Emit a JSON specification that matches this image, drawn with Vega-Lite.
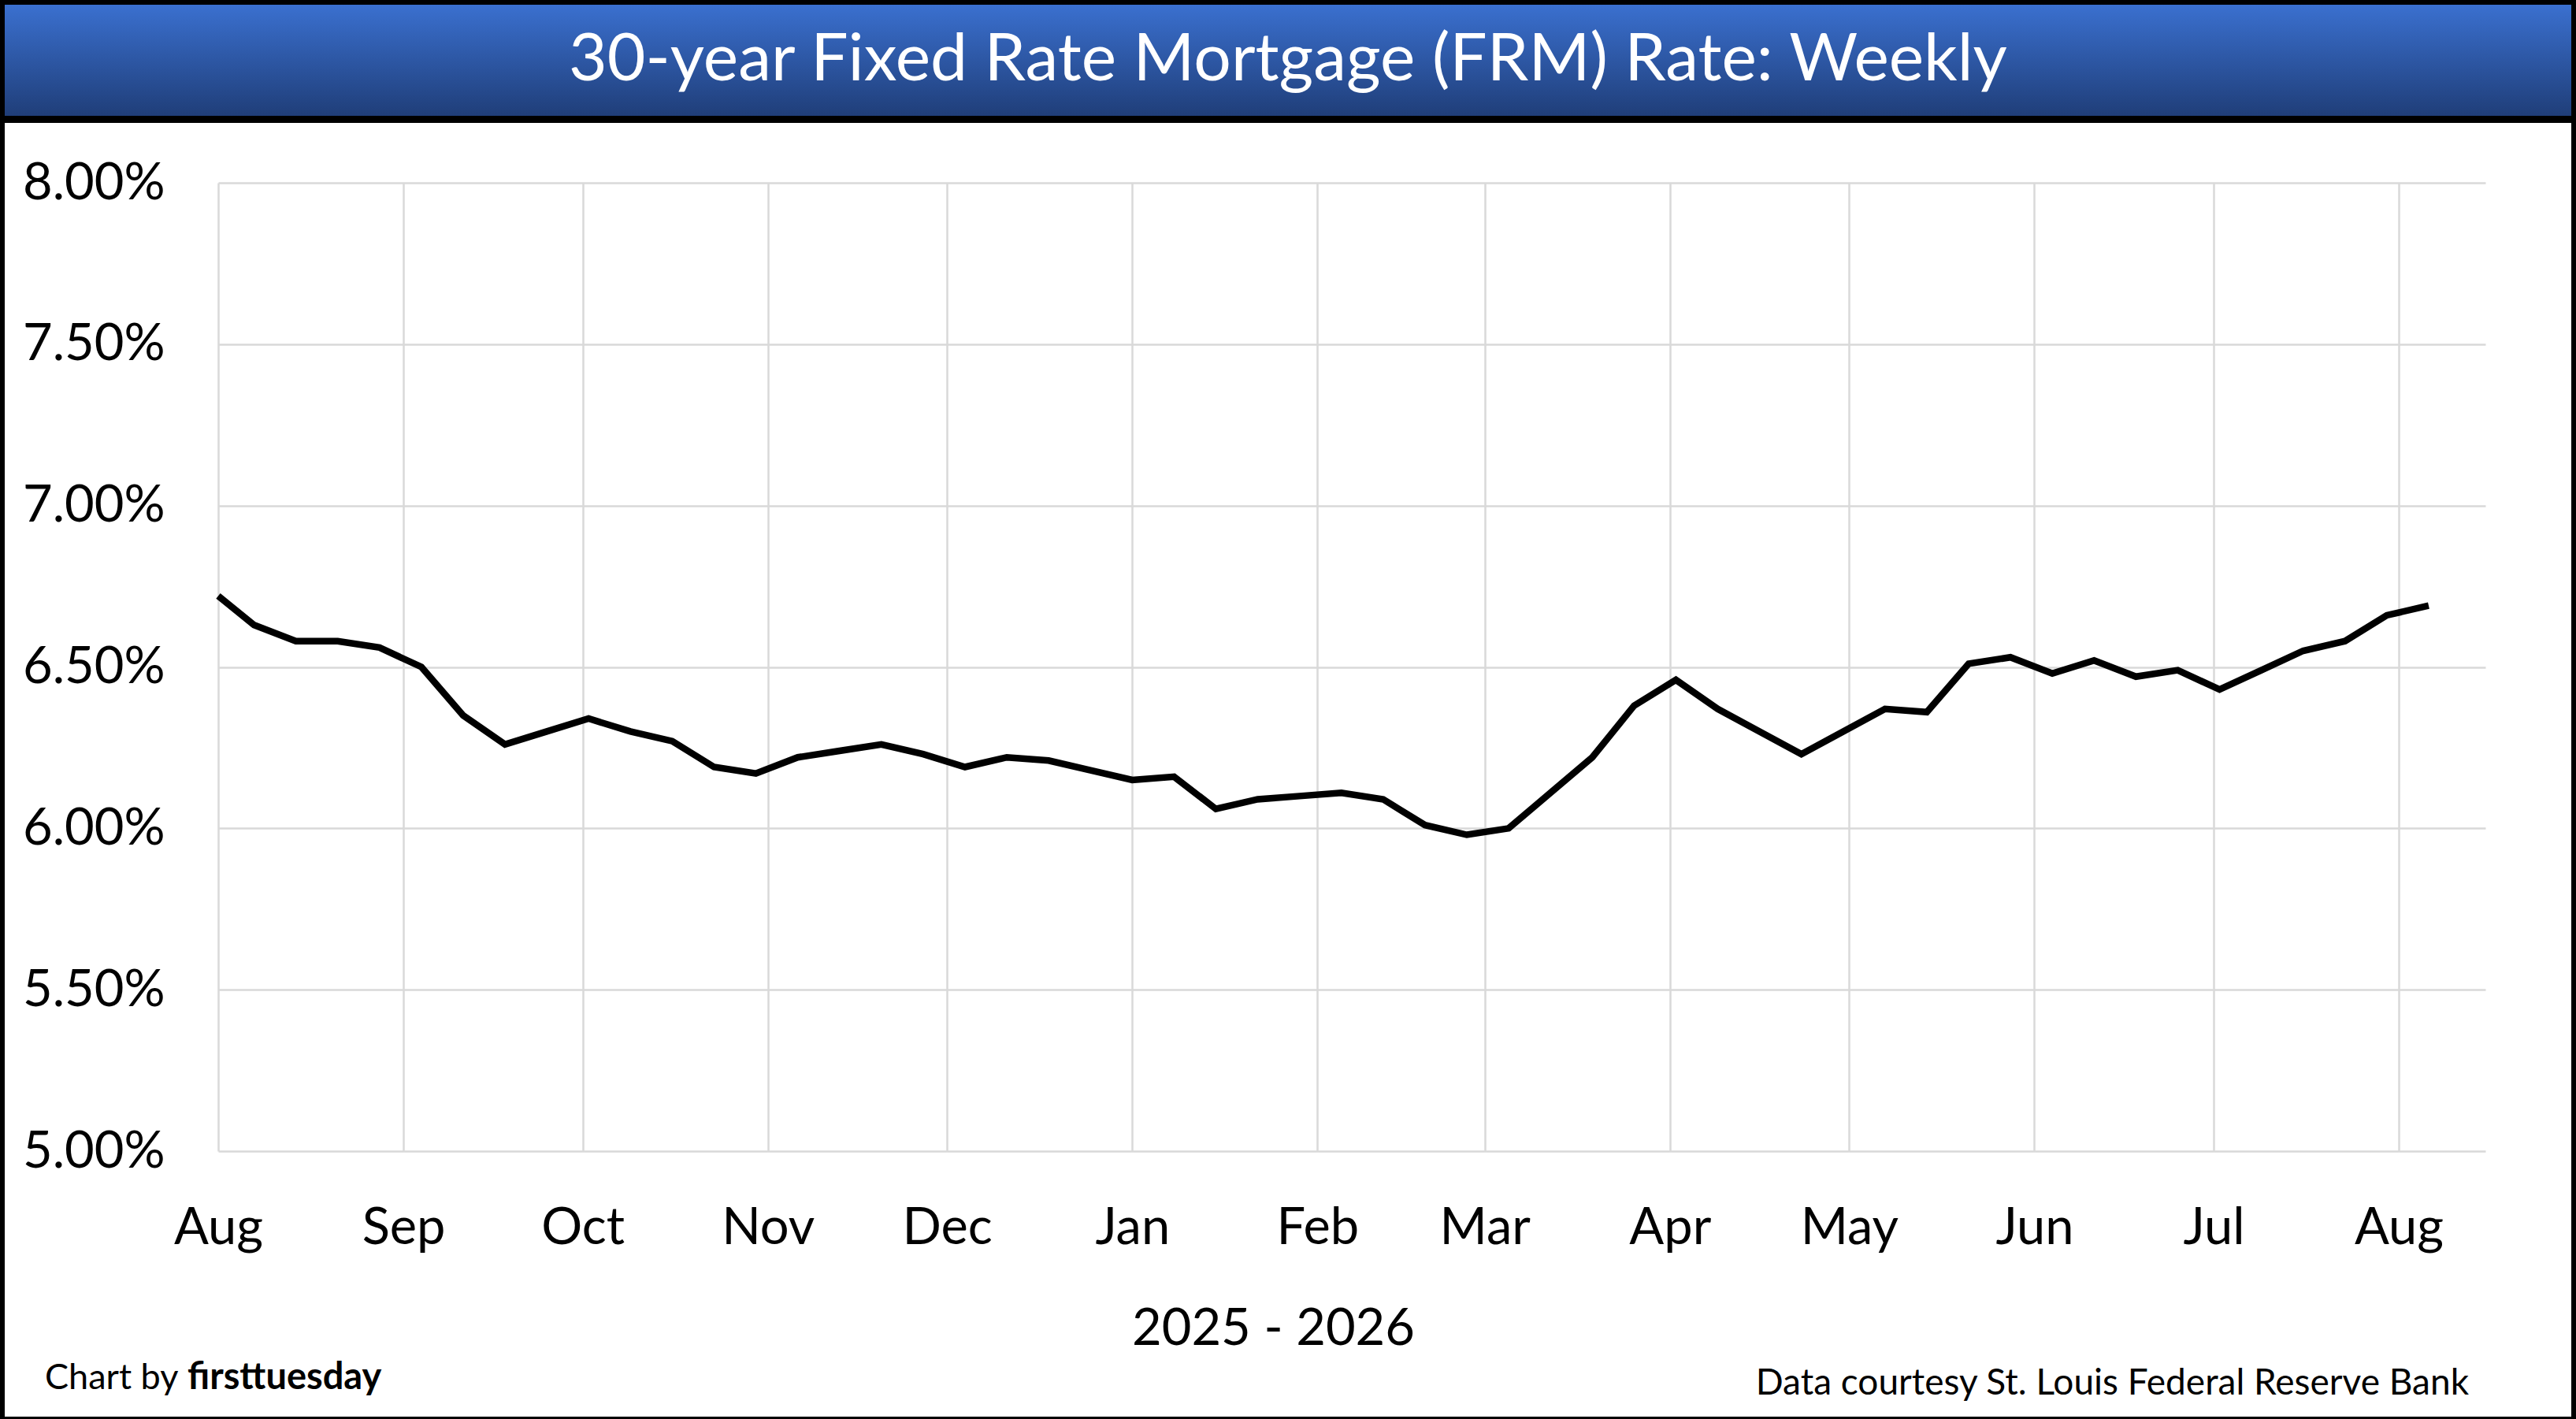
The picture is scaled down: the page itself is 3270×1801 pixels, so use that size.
{
  "$schema": "https://vega.github.io/schema/vega-lite/v6.json",
  "background": "white",
  "padding": 0,
  "spacing": -6,
  "config": {"font": "Lato", "view": {"stroke": null}},
  "vconcat": [
    {
      "width": 3264,
      "height": 147,
      "data": {"values": [{"title": "30-year Fixed Rate Mortgage (FRM) Rate: Weekly"}]},
      "layer": [
        {
          "mark": {
            "type": "rect",
            "stroke": "black",
            "strokeWidth": 6,
            "fill": {
              "gradient": "linear",
              "x1": 0, "y1": 0, "x2": 0, "y2": 1,
              "stops": [
                {"offset": 0, "color": "#3B71D1"},
                {"offset": 1, "color": "#1F3D77"}
              ]
            }
          }
        },
        {
          "mark": {"type": "text", "color": "white", "fontSize": 84, "font": "Lato"},
          "encoding": {"text": {"field": "title"}}
        }
      ]
    },
    {
      "width": 3264,
      "height": 1648,
      "view": {"stroke": "black", "strokeWidth": 6, "fill": "white"},
      "layer": [
        {
          "data": {
            "values": [
              {"week": "2025-07-31T00:00:00", "rate": 6.72},
              {"week": "2025-08-07T00:00:00", "rate": 6.63},
              {"week": "2025-08-14T00:00:00", "rate": 6.58},
              {"week": "2025-08-21T00:00:00", "rate": 6.58},
              {"week": "2025-08-28T00:00:00", "rate": 6.56},
              {"week": "2025-09-04T00:00:00", "rate": 6.50},
              {"week": "2025-09-11T00:00:00", "rate": 6.35},
              {"week": "2025-09-18T00:00:00", "rate": 6.26},
              {"week": "2025-09-25T00:00:00", "rate": 6.30},
              {"week": "2025-10-02T00:00:00", "rate": 6.34},
              {"week": "2025-10-09T00:00:00", "rate": 6.30},
              {"week": "2025-10-16T00:00:00", "rate": 6.27},
              {"week": "2025-10-23T00:00:00", "rate": 6.19},
              {"week": "2025-10-30T00:00:00", "rate": 6.17},
              {"week": "2025-11-06T00:00:00", "rate": 6.22},
              {"week": "2025-11-13T00:00:00", "rate": 6.24},
              {"week": "2025-11-20T00:00:00", "rate": 6.26},
              {"week": "2025-11-27T00:00:00", "rate": 6.23},
              {"week": "2025-12-04T00:00:00", "rate": 6.19},
              {"week": "2025-12-11T00:00:00", "rate": 6.22},
              {"week": "2025-12-18T00:00:00", "rate": 6.21},
              {"week": "2025-12-25T00:00:00", "rate": 6.18},
              {"week": "2026-01-01T00:00:00", "rate": 6.15},
              {"week": "2026-01-08T00:00:00", "rate": 6.16},
              {"week": "2026-01-15T00:00:00", "rate": 6.06},
              {"week": "2026-01-22T00:00:00", "rate": 6.09},
              {"week": "2026-01-29T00:00:00", "rate": 6.10},
              {"week": "2026-02-05T00:00:00", "rate": 6.11},
              {"week": "2026-02-12T00:00:00", "rate": 6.09},
              {"week": "2026-02-19T00:00:00", "rate": 6.01},
              {"week": "2026-02-26T00:00:00", "rate": 5.98},
              {"week": "2026-03-05T00:00:00", "rate": 6.00},
              {"week": "2026-03-12T00:00:00", "rate": 6.11},
              {"week": "2026-03-19T00:00:00", "rate": 6.22},
              {"week": "2026-03-26T00:00:00", "rate": 6.38},
              {"week": "2026-04-02T00:00:00", "rate": 6.46},
              {"week": "2026-04-09T00:00:00", "rate": 6.37},
              {"week": "2026-04-16T00:00:00", "rate": 6.30},
              {"week": "2026-04-23T00:00:00", "rate": 6.23},
              {"week": "2026-04-30T00:00:00", "rate": 6.30},
              {"week": "2026-05-07T00:00:00", "rate": 6.37},
              {"week": "2026-05-14T00:00:00", "rate": 6.36},
              {"week": "2026-05-21T00:00:00", "rate": 6.51},
              {"week": "2026-05-28T00:00:00", "rate": 6.53},
              {"week": "2026-06-04T00:00:00", "rate": 6.48},
              {"week": "2026-06-11T00:00:00", "rate": 6.52},
              {"week": "2026-06-18T00:00:00", "rate": 6.47},
              {"week": "2026-06-25T00:00:00", "rate": 6.49},
              {"week": "2026-07-02T00:00:00", "rate": 6.43},
              {"week": "2026-07-09T00:00:00", "rate": 6.49},
              {"week": "2026-07-16T00:00:00", "rate": 6.55},
              {"week": "2026-07-23T00:00:00", "rate": 6.58},
              {"week": "2026-07-30T00:00:00", "rate": 6.66},
              {"week": "2026-08-06T00:00:00", "rate": 6.69}
            ]
          },
          "mark": {"type": "line", "color": "black", "strokeWidth": 8.5},
          "encoding": {
            "x": {
              "field": "week",
              "type": "temporal",
              "scale": {
                "domain": [
                  {"year": 2025, "month": 8, "date": 1},
                  {"year": 2026, "month": 8, "date": 15, "hours": 12}
                ],
                "range": [274, 3152],
                "nice": false,
                "clamp": true
              },
              "axis": {
                "orient": "top",
                "offset": -1374,
                "title": "2025 - 2026",
                "titleFontSize": 65,
                "titleFontWeight": "normal",
                "titleColor": "black",
                "titleX": 1613,
                "titleY": 179,
                "titleBaseline": "alphabetic",
                "titleAlign": "center",
                "format": "%b",
                "tickCount": {"interval": "month", "step": 1},
                "domain": false,
                "ticks": false,
                "labelFontSize": 65,
                "labelColor": "black",
                "labelPadding": 0,
                "labelBaseline": "top",
                "labelFlush": false,
                "labelOverlap": false,
                "gridColor": "#d9d9d9",
                "gridWidth": 2.5
              }
            },
            "y": {
              "field": "rate",
              "type": "quantitative",
              "scale": {"domain": [5, 8], "range": [1308, 79], "nice": false, "zero": false},
              "axis": {
                "title": null,
                "offset": -274,
                "values": [5, 5.5, 6, 6.5, 7, 7.5, 8],
                "labelExpr": "format(datum.value, '.2f') + '%'",
                "domain": false,
                "ticks": false,
                "labelFontSize": 65,
                "labelColor": "black",
                "labelPadding": 68,
                "labelLimit": 0,
                "gridColor": "#d9d9d9",
                "gridWidth": 2.5
              }
            }
          }
        },
        {
          "data": {
            "values": [
              {"pos": "left", "part": "plain", "label": "Chart by"},
              {"pos": "left", "part": "bold", "label": "firsttuesday"},
              {"pos": "right", "part": "source", "label": "Data courtesy St. Louis Federal Reserve Bank"}
            ]
          },
          "encoding": {
            "x": {"field": "pos", "type": "nominal", "scale": {"type": "point", "domain": ["left", "right"], "padding": 0}, "axis": null},
            "text": {"field": "label"}
          },
          "layer": [
            {
              "transform": [{"filter": "datum.part === 'plain'"}],
              "mark": {"type": "text", "fontSize": 45, "color": "black", "align": "left", "baseline": "alphabetic", "dx": 54, "dy": 786}
            },
            {
              "transform": [{"filter": "datum.part === 'bold'"}],
              "mark": {"type": "text", "fontSize": 47, "fontWeight": "bold", "color": "black", "align": "left", "baseline": "alphabetic", "dx": 235, "dy": 786}
            },
            {
              "transform": [{"filter": "datum.part === 'source'"}],
              "mark": {"type": "text", "fontSize": 46, "color": "black", "align": "right", "baseline": "alphabetic", "dx": -133, "dy": 793}
            }
          ]
        }
      ],
      "resolve": {"scale": {"x": "independent", "y": "independent"}, "axis": {"x": "independent", "y": "independent"}}
    }
  ]
}
